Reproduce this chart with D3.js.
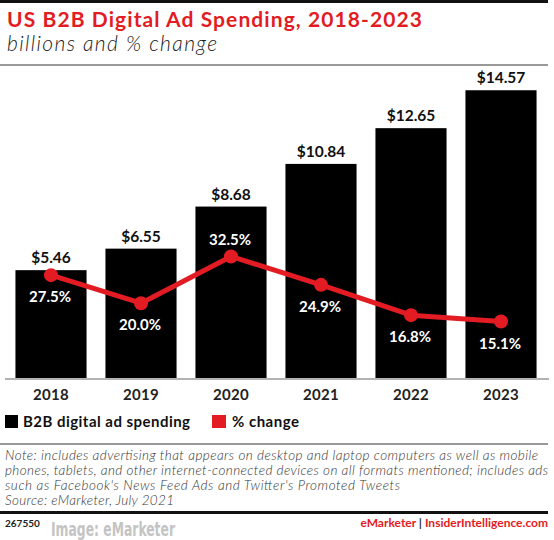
<!DOCTYPE html>
<html>
<head>
<meta charset="utf-8">
<script src="https://cdn.jsdelivr.net/npm/d3@7"></script>
<style>
  body { margin: 0; background: #fff; }
  svg { display: block; font-family: Lato, "Open Sans", sans-serif; }
</style>
</head>
<body>
<svg id="chart" width="554" height="540"></svg>
<script>
// data
var years = ["2018", "2019", "2020", "2021", "2022", "2023"];
var spending = [5.46, 6.55, 8.68, 10.84, 12.65, 14.57];   // billions
var pctChange = [27.5, 20.0, 32.5, 24.9, 16.8, 15.1];   // % change
var noteLines = [
  "Note: includes advertising that appears on desktop and laptop computers as well as mobile",
  "phones, tablets, and other internet-connected devices on all formats mentioned; includes ads",
  "such as Facebook's News Feed Ads and Twitter's Promoted Tweets",
  "Source: eMarketer, July 2021"
];
var noteWidths = [533, 543, 395, 169];

var red = "#e31b23";
var svg = d3.select("#chart"),
    baseY = 378;

var rows = years.map(function(y, i) { return {year: y, spend: spending[i], pct: pctChange[i]}; });

// header
svg.append("rect").attr("x", 0).attr("y", 0).attr("width", 548).attr("height", 3).attr("fill", "#111");
svg.append("text")
    .attr("x", 7).attr("y", 27)
    .attr("textLength", 415).attr("lengthAdjust", "spacing")
    .style("font-size", "21px").style("font-weight", 700)
    .attr("fill", red)
    .text("US B2B Digital Ad Spending, 2018-2023");
svg.append("text")
    .attr("x", 7).attr("y", 51)
    .attr("textLength", 210).attr("lengthAdjust", "spacing")
    .style("font-size", "21px").style("font-style", "italic").style("font-weight", 300)
    .attr("fill", "#222")
    .text("billions and % change");
svg.append("line").attr("x1", 0).attr("x2", 548).attr("y1", 65).attr("y2", 65)
    .attr("stroke", "#777").attr("stroke-width", 1.5);

// scales
var x = d3.scaleBand().domain(years).range([6, 546]).paddingInner(0.21).paddingOuter(0.105);
var yBar = d3.scaleLinear().domain([0, 15]).range([baseY, baseY - 15 * 19.75]);
var yPct = d3.scaleLinear().domain([0, 40]).range([baseY, baseY - 40 * 3.74]);

var g = svg.append("g");

g.selectAll("rect.bar")
  .data(rows)
  .enter().append("rect")
    .attr("class", "bar")
    .attr("x", function(d) { return x(d.year); })
    .attr("width", x.bandwidth())
    .attr("y", function(d) { return yBar(d.spend); })
    .attr("height", function(d) { return baseY - yBar(d.spend); })
    .attr("fill", "#000");

g.selectAll("text.val")
  .data(rows)
  .enter().append("text")
    .attr("class", "val")
    .attr("x", function(d) { return x(d.year) + x.bandwidth() / 2; })
    .attr("y", function(d) { return yBar(d.spend) - 7; })
    .attr("text-anchor", "middle")
    .style("font-size", "15.5px").style("font-weight", 700)
    .attr("fill", "#111")
    .text(function(d) { return "$" + d3.format(".2f")(d.spend); });

// x axis
var xAxis = g.append("g")
    .attr("transform", "translate(0," + (baseY + 1) + ")")
    .call(d3.axisBottom(x).tickSize(0).tickPadding(10));
xAxis.select(".domain").attr("d", "M5,0H549").attr("stroke", "#999").attr("stroke-width", 1.5);
xAxis.selectAll("text")
    .style("font-family", "Lato, sans-serif")
    .style("font-size", "15px").style("font-weight", 700)
    .style("letter-spacing", "0.3px")
    .attr("fill", "#222");

// % change line
var line = d3.line()
    .x(function(d) { return x(d.year) + x.bandwidth() / 2; })
    .y(function(d) { return yPct(d.pct); });

g.append("path")
    .datum(rows)
    .attr("d", line)
    .attr("fill", "none")
    .attr("stroke", red)
    .attr("stroke-width", 5)
    .attr("stroke-linejoin", "round");

g.selectAll("circle.dot")
  .data(rows)
  .enter().append("circle")
    .attr("class", "dot")
    .attr("cx", function(d) { return x(d.year) + x.bandwidth() / 2; })
    .attr("cy", function(d) { return yPct(d.pct); })
    .attr("r", 7)
    .attr("fill", red);

var maxPct = d3.max(pctChange);
g.selectAll("text.pct")
  .data(rows)
  .enter().append("text")
    .attr("class", "pct")
    .attr("x", function(d) { return x(d.year) + x.bandwidth() / 2 - 1; })
    .attr("y", function(d) { return yPct(d.pct) + (d.pct === maxPct ? -11 : 27); })
    .attr("text-anchor", "middle")
    .style("font-size", "15px").style("font-weight", 700)
    .attr("fill", "#fff")
    .text(function(d) { return d3.format(".1f")(d.pct) + "%"; });

// legend
var legend = svg.append("g").attr("transform", "translate(5,415)");
legend.append("rect").attr("width", 13).attr("height", 13).attr("fill", "#000");
legend.append("text").attr("x", 18).attr("y", 12)
    .attr("textLength", 167).attr("lengthAdjust", "spacing")
    .style("font-size", "15px").style("font-weight", 700)
    .attr("fill", "#111")
    .text("B2B digital ad spending");
legend.append("rect").attr("x", 207).attr("width", 14).attr("height", 13).attr("fill", red);
legend.append("text").attr("x", 227).attr("y", 12)
    .attr("textLength", 67).attr("lengthAdjust", "spacing")
    .style("font-size", "15px").style("font-weight", 700)
    .attr("fill", "#111")
    .text("% change");

// notes
svg.append("line").attr("x1", 0).attr("x2", 548).attr("y1", 444).attr("y2", 444)
    .attr("stroke", "#777").attr("stroke-width", 1.5);
svg.append("g").selectAll("text")
  .data(noteLines)
  .enter().append("text")
    .attr("x", 5)
    .attr("y", function(d, i) { return 460 + i * 15; })
    .attr("textLength", function(d, i) { return noteWidths[i]; })
    .attr("lengthAdjust", "spacing")
    .style("font-size", "13.5px").style("font-style", "italic").style("font-weight", 300)
    .attr("fill", "#333")
    .text(function(d) { return d; });

// footer
svg.append("rect").attr("x", 0).attr("y", 511).attr("width", 548).attr("height", 3).attr("fill", "#111");
svg.append("text").attr("x", 5).attr("y", 527)
    .style("font-size", "10px").style("font-weight", 700).attr("fill", "#222")
    .text("267550");
svg.append("text").attr("x", 51).attr("y", 536)
    .attr("textLength", 124).attr("lengthAdjust", "spacingAndGlyphs")
    .style("font-family", "'DejaVu Sans Condensed', 'DejaVu Sans', sans-serif")
    .style("font-size", "20px").style("font-weight", 700).attr("fill", "#c4c4c4")
    .text("Image: eMarketer");
var foot = svg.append("text").attr("x", 548).attr("y", 527).attr("text-anchor", "end")
    .style("font-size", "12px").style("font-weight", 700);
foot.append("tspan").attr("fill", red).text("eMarketer");
foot.append("tspan").attr("fill", "#333").text("  |  ");
foot.append("tspan").attr("fill", red).text("InsiderIntelligence.com");
</script>
</body>
</html>
